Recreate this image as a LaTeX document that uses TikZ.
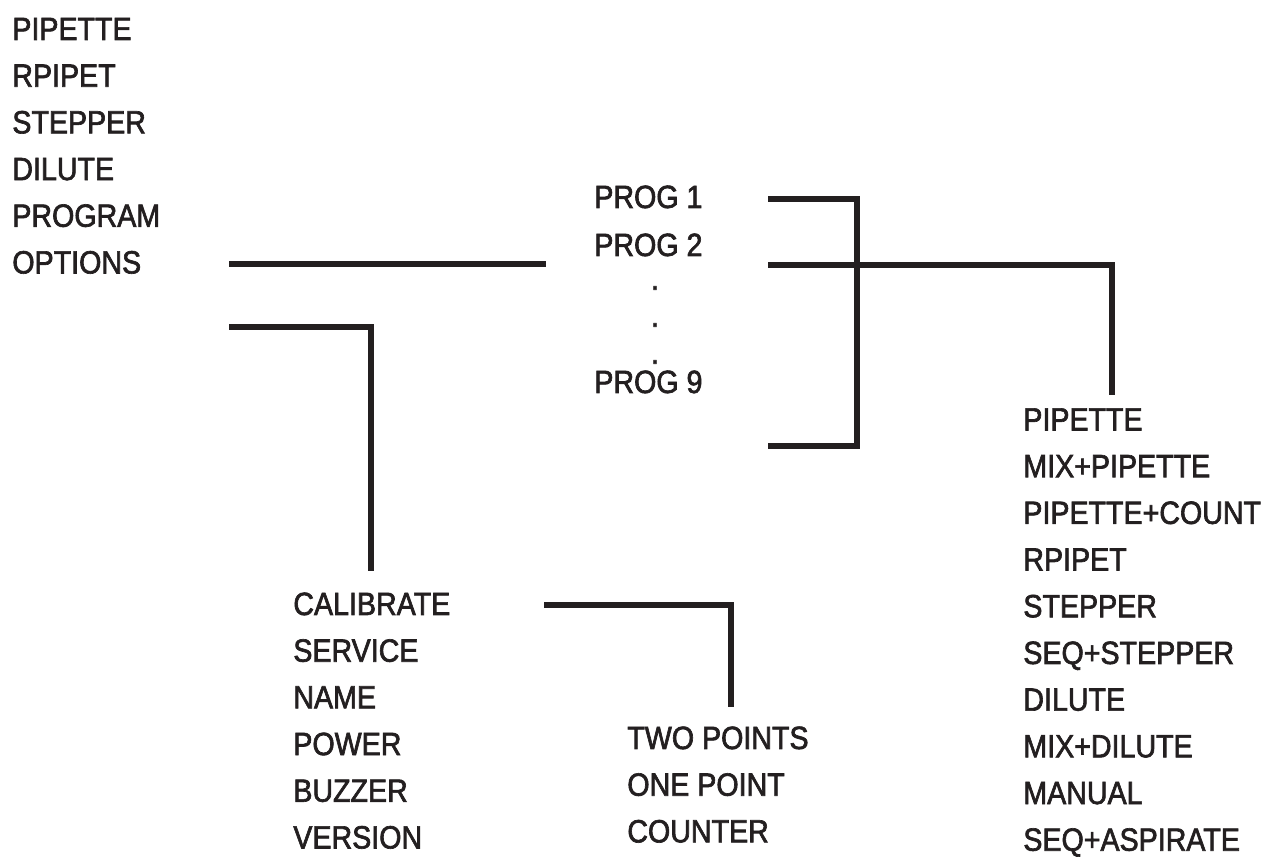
\documentclass[tikz,border=0pt]{standalone}
\usepackage{fontspec}
\setmainfont{Liberation Sans}[FakeStretch=0.89, FakeBold=2]
\usepackage{xcolor}
\usepackage{tikz}
\usetikzlibrary{positioning}

\definecolor{ink}{RGB}{35,31,32}
\newcommand{\menufont}{\fontsize{18.3}{22}\selectfont}

\begin{document}
\begin{tikzpicture}[
    x=0.02cm, y=-0.02cm,
    node distance=0.934cm, on grid,
    item/.style={inner sep=0pt, text height=0.46cm, text depth=0pt, anchor=west, font=\menufont, text=ink},
    dotitem/.style={inner sep=0pt, font=\menufont, text=ink},
    link/.style={draw=ink, line width=3.4pt, line join=miter}
]
\useasboundingbox (0,0) rectangle (1278,857);

% main menu
\node[item] (m1) at (12,28.5) {PIPETTE};
\node[item, below=of m1.west, anchor=west] (m2) {RPIPET};
\node[item, below=of m2.west, anchor=west] (m3) {STEPPER};
\node[item, below=of m3.west, anchor=west] (m4) {DILUTE};
\node[item, below=of m4.west, anchor=west] (m5) {PROGRAM};
\node[item, below=of m5.west, anchor=west] (m6) {OPTIONS};

% programs
\node[item] (p1) at (594,196.5) {PROG 1};
\node[item] (p2) at (594,244.5) {PROG 2};
\node[dotitem] (d1) at (655,288) {.};
\node[dotitem] (d2) at (655,325) {.};
\node[dotitem] (d3) at (655,362) {.};
\node[item] (p9) at (594,381.5) {PROG 9};

% program modes
\node[item] (r1) at (1023,419) {PIPETTE};
\node[item, below=of r1.west, anchor=west] (r2) {MIX+PIPETTE};
\node[item, below=of r2.west, anchor=west] (r3) {PIPETTE+COUNT};
\node[item, below=of r3.west, anchor=west] (r4) {RPIPET};
\node[item, below=of r4.west, anchor=west] (r5) {STEPPER};
\node[item, below=of r5.west, anchor=west] (r6) {SEQ+STEPPER};
\node[item, below=of r6.west, anchor=west] (r7) {DILUTE};
\node[item, below=of r7.west, anchor=west] (r8) {MIX+DILUTE};
\node[item, below=of r8.west, anchor=west] (r9) {MANUAL};
\node[item, below=of r9.west, anchor=west] (r10) {SEQ+ASPIRATE};

% options
\node[item] (o1) at (293,603.5) {CALIBRATE};
\node[item, below=of o1.west, anchor=west] (o2) {SERVICE};
\node[item, below=of o2.west, anchor=west] (o3) {NAME};
\node[item, below=of o3.west, anchor=west] (o4) {POWER};
\node[item, below=of o4.west, anchor=west] (o5) {BUZZER};
\node[item, below=of o5.west, anchor=west] (o6) {VERSION};

% calibration
\node[item] (c1) at (627,737.5) {TWO POINTS};
\node[item, below=of c1.west, anchor=west] (c2) {ONE POINT};
\node[item, below=of c2.west, anchor=west] (c3) {COUNTER};

% line ends
\coordinate (progin)  at (229,264);
\coordinate (progend) at (546,264);
\coordinate (optin)   at (229,327);
\coordinate (optend)  at (371,571);
\coordinate (top)     at (768,199);
\coordinate (mid)     at (768,265);
\coordinate (bot)     at (768,446);
\coordinate (brk)     at (857,199);
\coordinate (modeend) at (1112,395);
\coordinate (calin)   at (544,605);
\coordinate (calend)  at (731,707);

\path[link] (progin) -- (progend);
\path[link] (optin) -| (optend);
\path[link] (top) -- (brk) -- (brk |- bot) -- (bot);
\path[link] (mid) -| (modeend);
\path[link] (calin) -| (calend);
\end{tikzpicture}
\end{document}
